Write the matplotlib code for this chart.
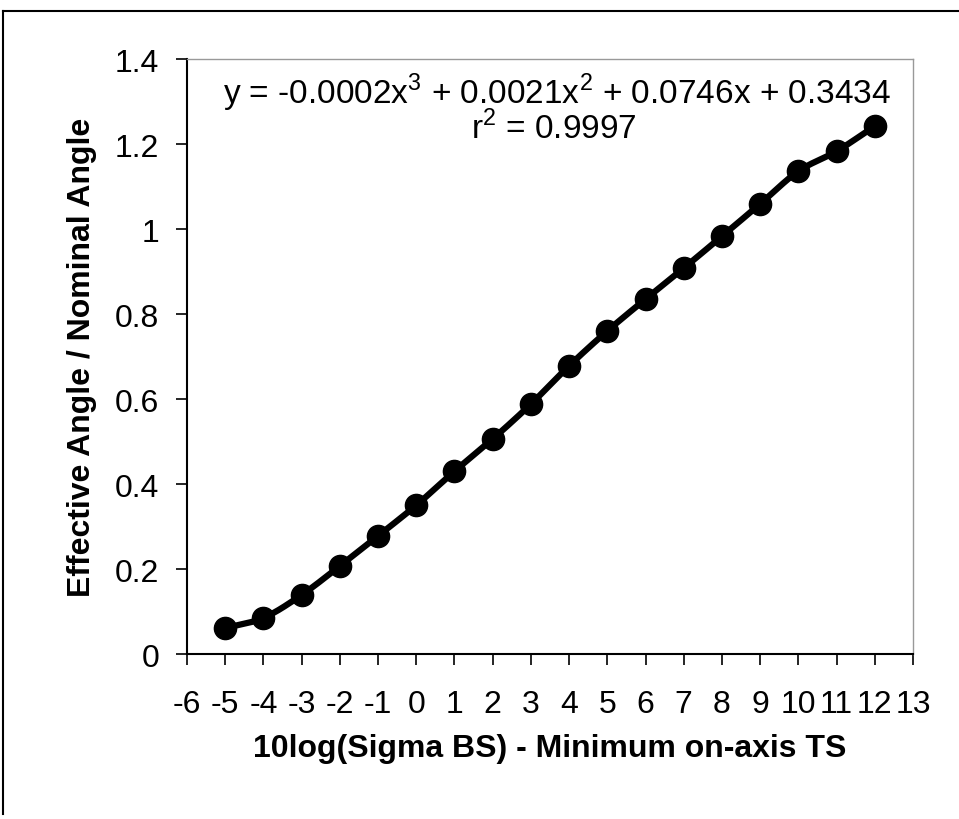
import matplotlib
matplotlib.use('Agg')
import matplotlib.pyplot as plt
import numpy as np
from matplotlib.lines import Line2D

plt.rcParams['font.family'] = ['Liberation Sans', 'DejaVu Sans']
plt.rcParams['axes.unicode_minus'] = False
plt.rcParams['mathtext.fontset'] = 'custom'
plt.rcParams['mathtext.rm'] = 'Liberation Sans'

# data
ts_diff = [-5, -4, -3, -2, -1, 0, 1, 2, 3, 4, 5, 6, 7, 8, 9, 10, 11, 12]
angle_ratio = [0.061, 0.085, 0.139, 0.207, 0.278, 0.350, 0.430, 0.506, 0.588,
               0.678, 0.760, 0.835, 0.908, 0.983, 1.059, 1.136, 1.183, 1.242]
x_ticks = list(range(-6, 14))
y_ticks = [0, 0.2, 0.4, 0.6, 0.8, 1.0, 1.2, 1.4]
y_ticklabels = ['0', '0.2', '0.4', '0.6', '0.8', '1', '1.2', '1.4']


def smooth(xs, ys, n=20):
    # catmull-rom, like excel's smoothed line
    xs = np.asarray(xs, float)
    ys = np.asarray(ys, float)
    px = np.concatenate([[2*xs[0]-xs[1]], xs, [2*xs[-1]-xs[-2]]])
    py = np.concatenate([[2*ys[0]-ys[1]], ys, [2*ys[-1]-ys[-2]]])
    ox, oy = [], []
    t = np.linspace(0, 1, n, endpoint=False)
    for i in range(1, len(px)-2):
        for p, o in ((px, ox), (py, oy)):
            p0, p1, p2, p3 = p[i-1], p[i], p[i+1], p[i+2]
            o.extend(0.5*((2*p1) + (-p0+p2)*t + (2*p0-5*p1+4*p2-p3)*t**2
                          + (-p0+3*p1-3*p2+p3)*t**3))
    ox.append(xs[-1])
    oy.append(ys[-1])
    return ox, oy


fig = plt.figure(figsize=(9.59, 8.2), dpi=100)
ax = fig.add_axes([0.195, 0.2012, 0.757, 0.7256])

sx, sy = smooth(ts_diff, angle_ratio)
ax.plot(sx, sy, color='black', linewidth=4.5, solid_capstyle='round')
ax.plot(ts_diff, angle_ratio, 'o', color='black', markersize=16)

ax.set_xlim(-6, 13)
ax.set_ylim(0, 1.4)
ax.set_xticks(x_ticks)
ax.set_yticks(y_ticks)
ax.set_yticklabels(y_ticklabels)
ax.tick_params(axis='both', direction='out', length=8, width=1.2, labelsize=23,
               color='black')
ax.tick_params(axis='x', pad=17)
ax.tick_params(axis='y', pad=12)

for s in ['top', 'right']:
    ax.spines[s].set_color('#999999')
    ax.spines[s].set_linewidth(1.0)
    ax.spines[s].set_linestyle((0, (1, 1)))
for s in ['left', 'bottom']:
    ax.spines[s].set_color('black')
    ax.spines[s].set_linewidth(1.5)

ax.set_xlabel('10log(Sigma BS) - Minimum on-axis TS', fontsize=23,
              fontweight='bold', labelpad=10)
ax.set_ylabel('Effective Angle / Nominal Angle', fontsize=23,
              fontweight='bold', labelpad=13)

# trendline equation box
ax.text(0.51, 0.945, 'y = -0.0002x$^{3}$ + 0.0021x$^{2}$ + 0.0746x + 0.3434',
        transform=ax.transAxes, ha='center', va='center', fontsize=24)
ax.text(0.505, 0.885, 'r$^{2}$ = 0.9997', transform=ax.transAxes,
        ha='center', va='center', fontsize=24)

# outer frame of the chart area
fig.add_artist(Line2D([3/959, 3/959], [5/820, 1-12/820], color='black',
                      linewidth=1.5, transform=fig.transFigure))
fig.add_artist(Line2D([3/959, 1.0], [1-12/820, 1-12/820], color='black',
                      linewidth=1.5, transform=fig.transFigure))

fig.savefig('out.png', dpi=100)
